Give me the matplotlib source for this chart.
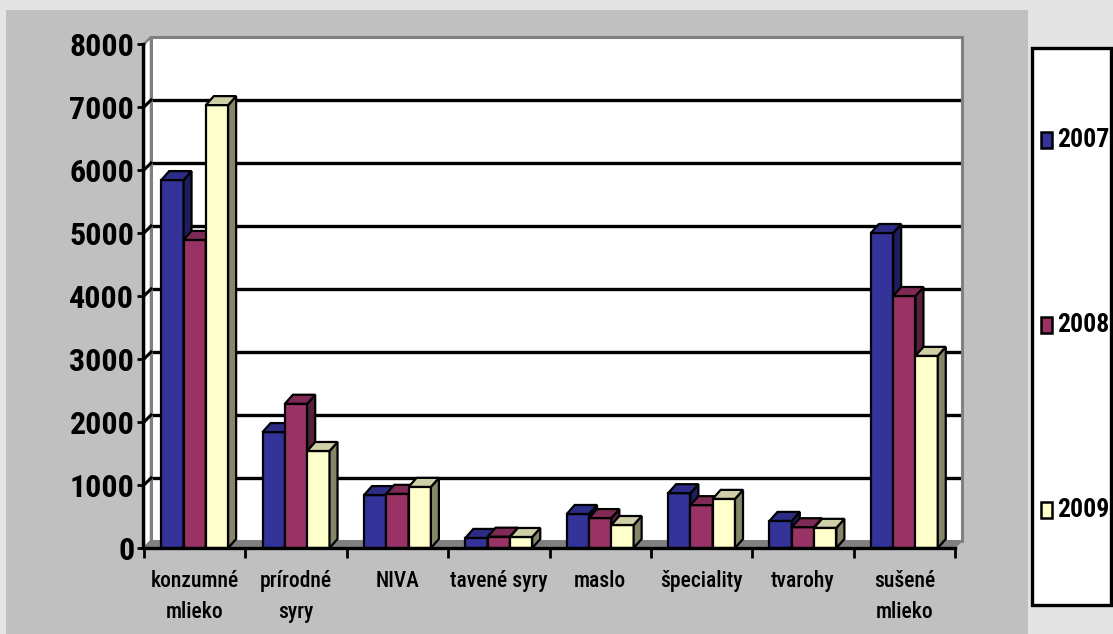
import matplotlib
matplotlib.use("Agg")
import matplotlib.pyplot as plt
from matplotlib.patches import Rectangle, Polygon
import matplotlib.transforms as mtransforms
import numpy as np

categories = ["konzumné\nmlieko", "prírodné\nsyry", "NIVA", "tavené syry",
              "maslo", "špeciality", "tvarohy", "sušené\nmlieko"]
series = ["2007", "2008", "2009"]
values_2007 = [5840, 1840, 840, 160, 540, 870, 430, 5000]
values_2008 = [4890, 2290, 860, 180, 475, 680, 330, 4000]
values_2009 = [7030, 1540, 970, 175, 365, 780, 320, 3050]
yticks = [0, 1000, 2000, 3000, 4000, 5000, 6000, 7000, 8000]

front_colors = ["#333399", "#993366", "#ffffcc"]
top_colors = ["#2c2c86", "#7f2a55", "#d0d0a8"]
side_colors = ["#1e1e5e", "#55203b", "#85856a"]

FONT = ["Roboto Condensed", "Liberation Sans", "DejaVu Sans"]
plt.rcParams["font.family"] = FONT

W, H = 1113, 634
fig = plt.figure(figsize=(W / 100, H / 100), dpi=100)
fig.patch.set_facecolor("#e4e4e4")
fig.add_artist(Rectangle((6 / W, 0), (1028 - 6) / W, (H - 10) / H,
                         transform=fig.transFigure, fc="#c0c0c0", ec="none", zorder=0))

ax = fig.add_axes([144 / W, (H - 548) / H, (955 - 144) / W, (548 - 44) / H])
ax.set_xlim(0, len(categories))
ax.set_ylim(0, 8000)
ax.patch.set_alpha(0)

pix = mtransforms.IdentityTransform()
wall_dx, wall_dy = 7, 7
bar_dx, bar_dy = 8, 9
wall_tr = ax.transData + mtransforms.Affine2D().translate(wall_dx, wall_dy)


def disp(x, y):
    return ax.transData.transform((x, y))


# back wall with gridlines
ax.add_patch(Rectangle((0, 0), len(categories), 8000, transform=wall_tr,
                       fc="white", ec="none", zorder=1, clip_on=False))
for v in yticks[1:-1]:
    ax.plot([0, len(categories)], [v, v], transform=wall_tr, color="black",
            lw=2.4, zorder=2, clip_on=False, solid_capstyle="butt")
ax.add_patch(Rectangle((0, 0), len(categories), 8000, transform=wall_tr,
                       fc="none", ec="#808080", lw=2.2, zorder=2.5, clip_on=False))

# side wall
p0, p1 = disp(0, 0), disp(0, 8000)
side_pts = [p0, p1, p1 + (wall_dx, wall_dy), p0 + (wall_dx, wall_dy)]
ax.add_patch(Polygon(side_pts, closed=True, transform=pix, fc="white",
                     ec="#808080", lw=1.8, zorder=1.5, clip_on=False))
for v in yticks[1:]:
    a = disp(0, v)
    ax.add_line(plt.Line2D([a[0], a[0] + wall_dx], [a[1], a[1] + wall_dy],
                           transform=pix, color="black", lw=2.2, zorder=2.6))

# floor
f0, f1 = disp(0, 0), disp(len(categories), 0)
floor_pts = [f0, f1, f1 + (wall_dx, wall_dy), f0 + (wall_dx, wall_dy)]
ax.add_patch(Polygon(floor_pts, closed=True, transform=pix, fc="#808080",
                     ec="#808080", lw=0.8, zorder=3, clip_on=False))

# bars
bw = 0.22
x = np.arange(len(categories)) + 0.5
all_values = [values_2007, values_2008, values_2009]
for j, vals in enumerate(all_values):
    xs = x + (j - 1) * bw
    ax.bar(xs, vals, width=bw, color=front_colors[j], edgecolor="black",
           lw=1.6, zorder=4 + 2 * j, clip_on=False, label=series[j])
    for xc, v in zip(xs, vals):
        bl = disp(xc - bw / 2, 0)
        br = disp(xc + bw / 2, 0)
        tl = disp(xc - bw / 2, v)
        tr = disp(xc + bw / 2, v)
        off = np.array([bar_dx, bar_dy])
        top = [tl, tr, tr + off, tl + off]
        side = [br, tr, tr + off, br + off]
        ax.add_patch(Polygon(side, closed=True, transform=pix, fc=side_colors[j],
                             ec="black", lw=1.6, zorder=5 + 2 * j, clip_on=False,
                             joinstyle="miter"))
        ax.add_patch(Polygon(top, closed=True, transform=pix, fc=top_colors[j],
                             ec="black", lw=1.6, zorder=5 + 2 * j, clip_on=False,
                             joinstyle="miter"))

# axes and ticks
for s in ["top", "right"]:
    ax.spines[s].set_visible(False)
for s in ["left", "bottom"]:
    ax.spines[s].set_linewidth(2.4)
    ax.spines[s].set_color("black")
    ax.spines[s].set_zorder(20)
ax.spines["left"].set_position(("outward", 1))

ax.set_yticks(yticks)
ax.set_yticklabels([str(t) for t in yticks], fontsize=23, fontweight="bold")
ax.tick_params(axis="y", length=4, width=2, pad=2, colors="black")

ax.set_xticks(x)
ax.set_xticklabels(categories, fontsize=15.5, fontweight="medium", linespacing=1.5)
ax.set_xticks(np.arange(len(categories) + 1), minor=True)
ax.tick_params(axis="x", which="major", length=0, pad=16)
ax.tick_params(axis="x", which="minor", length=7.5, width=2, direction="out")

# legend
fig.add_artist(Rectangle((1032 / W, (H - 605) / H), 79 / W, (605 - 48) / H,
                         transform=fig.transFigure, fc="white", ec="black",
                         lw=2.4, zorder=30))
legend_y = [140, 325, 510]
for j, name in enumerate(series):
    yc = legend_y[j]
    fig.add_artist(Rectangle((1041 / W, (H - yc - 8) / H), 11 / W, 16 / H,
                             transform=fig.transFigure, fc=front_colors[j],
                             ec="black", lw=1.8, zorder=31))
    fig.text(1057 / W, (H - yc) / H, name, fontsize=18.5, fontweight="bold",
             ha="left", va="center", zorder=32)

fig.savefig("out.png", dpi=100, facecolor=fig.get_facecolor())
